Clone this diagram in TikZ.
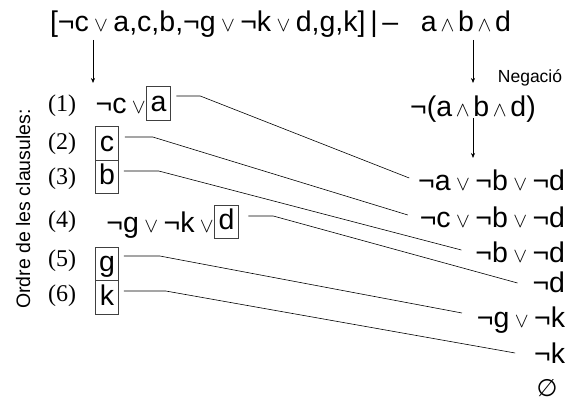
\documentclass[tikz,border=0pt]{standalone}
\usepackage{fontspec}
\setmainfont{Liberation Sans}
\newfontfamily\tnr{Liberation Serif}
\newfontfamily\djv{DejaVu Sans}
\usetikzlibrary{arrows.meta,calc}
\newcommand{\myor}{\hspace{0.19em}{\fontsize{20}{20}\selectfont$\vee$}\hspace{0.19em}}
\newcommand{\myand}{\hspace{0.13em}{\fontsize{20}{20}\selectfont$\wedge$}\hspace{0.13em}}
\begin{document}
\begin{tikzpicture}[x=1pt,y=-1pt,
  every node/.style={inner sep=0pt,outer sep=0pt,text height=20.4pt,text depth=0pt},
  txt/.style={font=\fontsize{28.5}{32}\selectfont},
  lab/.style={font=\tnr\fontsize{24}{28}\selectfont,text height=16.5pt,text depth=4.3pt},
  bx/.style={txt,draw=black!75,line width=0.7pt,minimum width=23.5pt,minimum height=33.5pt,text height=15.5pt},
  arr/.style={line width=0.6pt,-{Stealth[length=5pt,width=4pt]}},
  con/.style={line width=0.6pt}]
\useasboundingbox (0,0) rectangle (572,406);
% top line
\node[txt,anchor=west] (prem) at (50,21) {[¬c\myor a,c,b,¬g\myor¬k\myor d,g,k]\,|\,–};
\node[txt] (goal) at (466,21) {a\myand b\myand d};
\node[font=\fontsize{17.5}{20}\selectfont,text height=12.5pt] (neg) at (530,76) {Negació};
\node[txt] (ngoal) at (473,106) {¬(a\myand b\myand d)};
% arrows
\coordinate (la) at (93,40);
\coordinate (lb) at (93,83);
\coordinate (ra) at (473,40);
\coordinate (rb) at (473,83);
\coordinate (rc) at (473,118);
\coordinate (rd) at (473,158);
\draw[arr] (la) -- (lb);
\draw[arr] (ra) -- (rb);
\draw[arr] (rc) -- (rd);
% rotated label
\node[rotate=90,font=\fontsize{19.5}{22}\selectfont,text height=14pt] (ord) at (23,209) {Ordre de les clausules:};
% clause numbers
\node[lab] (n1) at (62,105) {(1)};
\node[lab] (n2) at (62,143.5) {(2)};
\node[lab] (n3) at (62,178.5) {(3)};
\node[lab] (n4) at (62,221) {(4)};
\node[lab] (n5) at (62,260) {(5)};
\node[lab] (n6) at (62,295) {(6)};
% boxes
\node[bx] (ba) at (158.5,103.5) {a};
\node[txt,anchor=east] (c1) at ($(ba.west)+(-1,0)$) {¬c\myor};
\node[bx] (bc) at (107,143.5) {c};
\node[bx] (bb) at (107,177) {b};
\node[bx] (bd) at (226.5,222) {d};
\node[txt,anchor=east] (c4) at ($(bd.west)+(-1,0)$) {¬g\myor¬k\myor};
\node[bx] (bg) at (107,264) {g};
\node[bx] (bk) at (107,297.5) {k};
% right column
\node[txt,anchor=east] (r1) at (565,180) {¬a\myor¬b\myor¬d};
\node[txt,anchor=east] (r2) at (565,217) {¬c\myor¬b\myor¬d};
\node[txt,anchor=east] (r3) at (565,252) {¬b\myor¬d};
\node[txt,anchor=east] (r4) at (565,282) {¬d};
\node[txt,anchor=east] (r5) at (565,317) {¬g\myor¬k};
\node[txt,anchor=east] (r6) at (565,353) {¬k};
\node[font=\djv\fontsize{24}{26}\selectfont,text height=17pt] (r7) at (547,388) {∅};
% connectors
\draw[con] ($(ba.east)+(6,-7.5)$) -- ($(ba.east)+(30,-7.5)$) -- ($(r1.west)+(-9,-2)$);
\draw[con] ($(bc.east)+(6,-6.5)$) -- ($(bc.east)+(34,-6.5)$) -- ($(r2.west)+(-12,-2)$);
\draw[con] ($(bb.east)+(5,-6)$) -- ($(bb.east)+(40,-6)$) -- ($(r3.west)+(-14,-2)$);
\draw[con] ($(bd.east)+(10,-6)$) -- ($(bd.east)+(35,-6)$) -- ($(r4.west)+(-15,1)$);
\draw[con] ($(bg.east)+(5,-8)$) -- ($(bg.east)+(41,-8)$) -- ($(r5.west)+(-15,-4)$);
\draw[con] ($(bk.east)+(5,-6.5)$) -- ($(bk.east)+(47,-6.5)$) -- ($(r6.west)+(-19,0)$);
\end{tikzpicture}
\end{document}
